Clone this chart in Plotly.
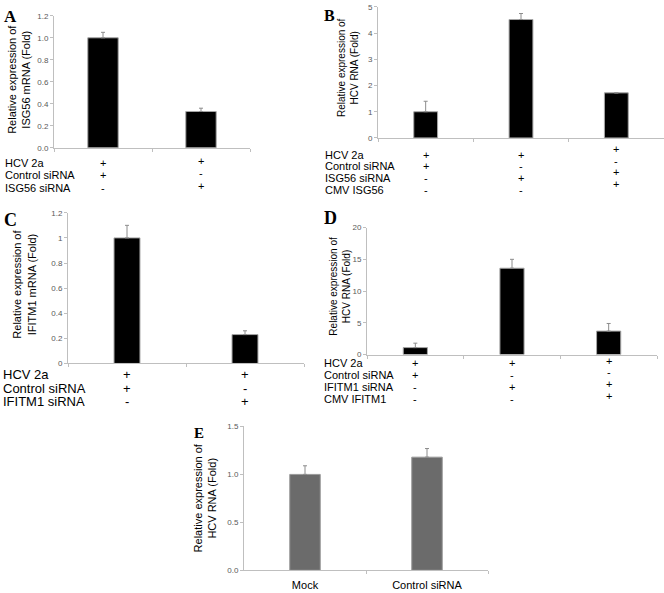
import plotly.graph_objects as go

W, H = 664, 593

# ---------------- data ----------------
a_values = [1.0, 0.33]
a_errors = [0.05, 0.03]
a_rows = ["HCV 2a", "Control siRNA", "ISG56 siRNA"]
a_signs = [["+", "+"], ["+", "-"], ["-", "+"]]
a_ticks = [0, 0.2, 0.4, 0.6, 0.8, 1.0, 1.2]

b_values = [1.0, 4.52, 1.72]
b_errors = [0.4, 0.23, 0.0]
b_rows = ["HCV 2a", "Control siRNA", "ISG56 siRNA", "CMV ISG56"]
b_signs = [["+", "+", "+"], ["+", "-", "-"], ["-", "+", "+"], ["-", "-", "+"]]
b_ticks = [0, 1, 2, 3, 4, 5]

c_values = [1.0, 0.23]
c_errors = [0.1, 0.03]
c_rows = ["HCV 2a", "Control siRNA", "IFITM1 siRNA"]
c_signs = [["+", "+"], ["+", "-"], ["-", "+"]]
c_ticks = [0, 0.2, 0.4, 0.6, 0.8, 1, 1.2]

d_values = [1.1, 13.6, 3.7]
d_errors = [0.7, 1.4, 1.2]
d_rows = ["HCV 2a", "Control siRNA", "IFITM1 siRNA", "CMV IFITM1"]
d_signs = [["+", "+", "+"], ["+", "-", "-"], ["-", "+", "+"], ["-", "-", "+"]]
d_ticks = [0, 5, 10, 15, 20]

e_categories = ["Mock", "Control siRNA"]
e_values = [1.0, 1.18]
e_errors = [0.09, 0.09]
e_ticks = [0, 0.5, 1.0, 1.5]

# ---------------- layout per panel (pixels) ----------------
panels = [
    dict(letter="A", values=a_values, errors=a_errors, ticks=a_ticks,
         ticktext=[f"{v:.1f}" for v in a_ticks],
         x0=54, x1=250, ytop=12, ybot=146, barw=0.31,
         color="black", edge="#a6a6a6",
         title="Relative expression of<br>ISG56 mRNA (Fold)", tx=19, ty=77, tsize=11,
         lx=2, ly=1, lsize=17,
         rows=a_rows, signs=a_signs, row_x=3, row_y=[161, 174, 187], fsize=11,
         col_dy=[0, -2]),
    dict(letter="B", values=b_values, errors=b_errors, ticks=b_ticks,
         ticktext=[f"{v:g}" for v in b_ticks],
         x0=378, x1=664, ytop=3, ybot=136, barw=0.25,
         color="black", edge="#a6a6a6",
         title="Relative expression of<br>HCV RNA (Fold)", tx=348, ty=65, tsize=10,
         lx=322, ly=1, lsize=16,
         rows=b_rows, signs=b_signs, row_x=323, row_y=[153, 165, 177, 189], fsize=11,
         col_dy=[0, 0, -6]),
    dict(letter="C", values=c_values, errors=c_errors, ticks=c_ticks,
         ticktext=[f"{v:g}" for v in c_ticks],
         x0=68, x1=304, ytop=212, ybot=365, barw=0.22,
         color="black", edge="#a6a6a6",
         title="Relative expression of<br>IFITM1 mRNA (Fold)", tx=24, ty=285, tsize=11,
         lx=2, ly=207, lsize=18,
         rows=c_rows, signs=c_signs, row_x=1, row_y=[376, 390, 404], fsize=13,
         col_dy=[0, 0]),
    dict(letter="D", values=d_values, errors=d_errors, ticks=d_ticks,
         ticktext=[f"{v:g}" for v in d_ticks],
         x0=367, x1=657, ytop=227, ybot=356, barw=0.25,
         color="black", edge="#a6a6a6",
         title="Relative expression of<br>HCV RNA (Fold)", tx=340, ty=287, tsize=10,
         lx=322, ly=205, lsize=18,
         rows=d_rows, signs=d_signs, row_x=322, row_y=[365, 377, 389, 401], fsize=11,
         col_dy=[0, 0, -3]),
    dict(letter="E", values=e_values, errors=e_errors, ticks=e_ticks,
         ticktext=[f"{v:.1f}" for v in e_ticks],
         x0=244, x1=488, ytop=429, ybot=575, barw=0.25,
         color="#6b6b6b", edge="#9a9a9a",
         title="Relative expression of<br>HCV RNA (Fold)", tx=205, ty=502, tsize=11,
         lx=192, ly=425, lsize=15,
         rows=None, categories=e_categories),
]

AXIS_GREY = "#bfbfbf"
TICK_FONT = dict(family="Liberation Sans Narrow, Liberation Sans, Arial", size=8, color="#595959")
TEXT_FONT = "Liberation Sans, Arial"

fig = go.Figure()
annotations = []
layout = {}

for i, p in enumerate(panels, start=1):
    n = len(p["values"])
    xs = list(range(n))
    xa = "x" if i == 1 else f"x{i}"
    ya = "y" if i == 1 else f"y{i}"
    fig.add_trace(go.Bar(
        x=xs, y=p["values"], width=p["barw"], xaxis=xa, yaxis=ya,
        marker=dict(color=p["color"], line=dict(color=p["edge"], width=1)),
        error_y=dict(type="data", symmetric=False, array=p["errors"],
                     arrayminus=[0] * n, color="#8c8c8c", thickness=1, width=2),
        showlegend=False, hoverinfo="skip",
    ))
    xkey = "xaxis" if i == 1 else f"xaxis{i}"
    ykey = "yaxis" if i == 1 else f"yaxis{i}"
    xaxis = dict(
        domain=[p["x0"] / W, min(p["x1"] / W, 1.0)],
        range=[-0.5, n - 0.5], anchor=ya,
        showline=True, linecolor=AXIS_GREY, linewidth=1,
        showgrid=False, zeroline=False, fixedrange=True,
    )
    if p.get("categories"):
        xaxis.update(tickmode="array", tickvals=xs, ticktext=p["categories"],
                     ticks="outside", ticklen=5, tickcolor="rgba(0,0,0,0)",
                     tickfont=dict(family=TEXT_FONT, size=11, color="black"),
                     minor=dict(tickmode="array", tickvals=[k + 0.5 for k in xs],
                                ticks="outside", ticklen=3, tickcolor=AXIS_GREY))
    else:
        xaxis.update(tickmode="array", tickvals=[k - 0.5 for k in range(n + 1)],
                     ticks="outside", ticklen=3, tickcolor=AXIS_GREY,
                     showticklabels=False)
    layout[xkey] = xaxis
    layout[ykey] = dict(
        domain=[1 - p["ybot"] / H, 1 - p["ytop"] / H],
        range=[0, p["ticks"][-1]], anchor=xa,
        tickmode="array", tickvals=p["ticks"], ticktext=p["ticktext"],
        ticks="outside", ticklen=3, tickcolor=AXIS_GREY,
        showline=True, linecolor=AXIS_GREY, linewidth=1,
        showgrid=False, zeroline=False, tickfont=TICK_FONT, fixedrange=True,
    )

    # panel letter
    annotations.append(dict(
        text=f"<b>{p['letter']}</b>", xref="paper", yref="paper",
        x=p["lx"] / W, y=1 - p["ly"] / H, xanchor="left", yanchor="top",
        showarrow=False, font=dict(family="Liberation Serif, Times New Roman", size=p["lsize"], color="black"),
    ))
    # y-axis title
    annotations.append(dict(
        text=p["title"], xref="paper", yref="paper",
        x=p["tx"] / W, y=1 - p["ty"] / H, xanchor="center", yanchor="middle",
        textangle=-90, showarrow=False,
        font=dict(family=TEXT_FONT, size=p["tsize"], color="black"),
    ))
    # condition table
    if p.get("rows"):
        for r, label in enumerate(p["rows"]):
            ypx = p["row_y"][r]
            annotations.append(dict(
                text=label, xref="paper", yref="paper",
                x=p["row_x"] / W, y=1 - ypx / H, xanchor="left", yanchor="middle",
                showarrow=False, font=dict(family=TEXT_FONT, size=p["fsize"], color="black"),
            ))
            for c, s in enumerate(p["signs"][r]):
                annotations.append(dict(
                    text=s, xref=xa, yref="paper",
                    x=c, y=1 - (ypx + p["col_dy"][c]) / H,
                    xanchor="center", yanchor="middle", showarrow=False,
                    font=dict(family=TEXT_FONT, size=p["fsize"], color="black"),
                ))

fig.update_layout(
    width=W, height=H,
    margin=dict(l=0, r=0, t=0, b=0),
    paper_bgcolor="white", plot_bgcolor="white",
    annotations=annotations,
    **layout,
)

fig.write_html(
    "out.html",
    config={"displayModeBar": False},
    post_script="document.body.style.margin='0';document.body.style.padding='0';document.body.style.overflow='hidden';",
)
